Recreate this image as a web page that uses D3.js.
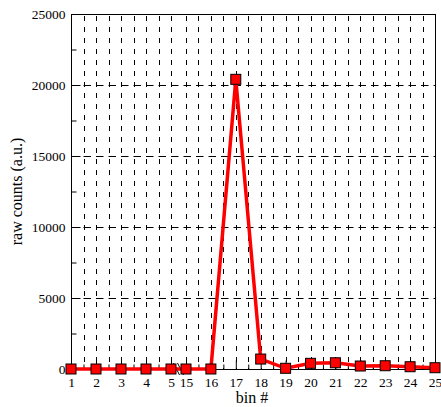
<!DOCTYPE html>
<html>
<head>
<meta charset="utf-8">
<script src="https://cdn.jsdelivr.net/npm/d3@7"></script>
<style>
  body { margin: 0; background: #fff; }
  svg text { font-family: "Liberation Serif", "Times New Roman", serif; fill: #000; }
</style>
</head>
<body>
<div id="chart"></div>
<script>
const width = 441;
const height = 407;

// data
const bins = [1, 2, 3, 4, 5, 15, 16, 17, 18, 19, 20, 21, 22, 23, 24, 25];
const counts = [0, 0, 0, 0, 0, 0, 0, 20400, 700, 50, 400, 440, 210, 230, 160, 90];
const yTicks = [0, 5000, 10000, 15000, 20000, 25000];
const yMinor = [2500, 7500, 12500, 17500, 22500];

const plotLeft = 71, plotRight = 435, plotTop = 14, plotBottom = 369;

const svg = d3.select("#chart")
    .append("svg")
    .attr("width", width)
    .attr("height", height);

// broken x axis: 1..5, then 15..25
const x = d3.scaleLinear().domain([1, 5, 15, 25]).range([plotLeft, 171, 186, plotRight]);
const y = d3.scaleLinear().domain([0, 25000]).range([plotBottom, plotTop]);

// minor x positions (half bins), skipping the gap
const halfBins = bins.slice(0, -1)
    .filter(b => b !== 5)
    .map(b => b + 0.5);
const vGrid = bins.filter(b => b !== 1 && b !== 25).concat(halfBins);

// vertical dashed grid
svg.append("g")
    .selectAll("line")
    .data(vGrid)
    .enter()
    .append("line")
    .attr("x1", d => Math.round(x(d)) + 0.5)
    .attr("x2", d => Math.round(x(d)) + 0.5)
    .attr("y1", plotTop + 2)
    .attr("y2", plotBottom)
    .attr("stroke", "#000")
    .attr("stroke-width", 1)
    .attr("stroke-dasharray", "5,6");

// horizontal dashed grid
svg.append("g")
    .selectAll("line")
    .data(yTicks.filter(d => d > 0))
    .enter()
    .append("line")
    .attr("x1", plotLeft)
    .attr("x2", plotRight)
    .attr("y1", d => Math.round(y(d)) + 0.5)
    .attr("y2", d => Math.round(y(d)) + 0.5)
    .attr("stroke", "#000")
    .attr("stroke-width", 1)
    .attr("stroke-dasharray", "7.5,5");

// frame
svg.append("rect")
    .attr("x", plotLeft + 0.5)
    .attr("y", plotTop + 0.5)
    .attr("width", plotRight - plotLeft)
    .attr("height", plotBottom - plotTop)
    .attr("fill", "none")
    .attr("stroke", "#000")
    .attr("stroke-width", 1);

// y axis ticks and labels (ticks point inward)
const yAxis = d3.axisLeft(y)
    .tickValues(yTicks)
    .tickSize(-9)
    .tickPadding(6)
    .tickFormat(d3.format("d"));
const gy = svg.append("g")
    .attr("transform", `translate(${plotLeft + 0.5},0)`)
    .call(yAxis);
gy.select(".domain").remove();
gy.selectAll("text").style("font-size", "13.5px");

const yMinorAxis = d3.axisLeft(y).tickValues(yMinor).tickSize(-5).tickFormat("");
svg.append("g")
    .attr("transform", `translate(${plotLeft + 0.5},0)`)
    .call(yMinorAxis)
    .select(".domain").remove();

// x axis ticks and labels
const xAxis = d3.axisBottom(x)
    .tickValues(bins)
    .tickSize(-9)
    .tickPadding(8)
    .tickFormat(d => d);
const gx = svg.append("g")
    .attr("transform", `translate(0,${plotBottom + 0.5})`)
    .call(xAxis);
gx.select(".domain").remove();
gx.selectAll("text").style("font-size", "13.5px");

const xMinorAxis = d3.axisBottom(x).tickValues(halfBins).tickSize(-5).tickFormat("");
svg.append("g")
    .attr("transform", `translate(0,${plotBottom + 0.5})`)
    .call(xMinorAxis)
    .select(".domain").remove();

// axis break marks
const bx = (x(5) + x(15)) / 2;
[-2, 2].forEach(off => {
    svg.append("line")
        .attr("x1", bx + off - 3)
        .attr("y1", plotBottom - 6)
        .attr("x2", bx + off + 3)
        .attr("y2", plotBottom + 6)
        .attr("stroke", "#000")
        .attr("stroke-width", 1);
});

// data line
const line = d3.line()
    .x((d, i) => x(bins[i]))
    .y(d => y(d));

svg.append("path")
    .datum(counts)
    .attr("d", line)
    .attr("fill", "none")
    .attr("stroke", "#ff0000")
    .attr("stroke-width", 3.5);

svg.append("g")
    .selectAll("rect")
    .data(counts)
    .enter()
    .append("rect")
    .attr("x", (d, i) => x(bins[i]) - 5)
    .attr("y", d => y(d) - 5)
    .attr("width", 10)
    .attr("height", 10)
    .attr("fill", "#ff0000")
    .attr("stroke", "#000")
    .attr("stroke-width", 1);

// axis labels
svg.append("text")
    .attr("x", 252)
    .attr("y", 403)
    .attr("text-anchor", "middle")
    .style("font-size", "16px")
    .text("bin #");

svg.append("text")
    .attr("transform", `translate(22,${(plotTop + plotBottom) / 2}) rotate(-90)`)
    .attr("text-anchor", "middle")
    .style("font-size", "16px")
    .text("raw counts (a.u.)");
</script>
</body>
</html>
